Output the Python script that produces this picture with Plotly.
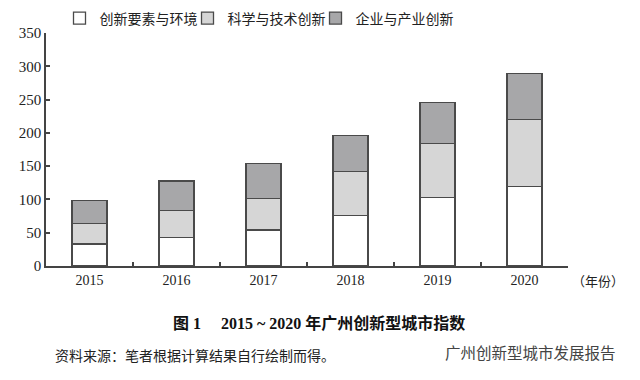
import plotly.graph_objects as go

years = ["2015", "2016", "2017", "2018", "2019", "2020"]
innovation_env = [33, 43, 54, 75.5, 102.5, 119.5]
sci_tech = [31, 40.5, 47.5, 66, 81.5, 101]
industry = [34, 44, 52.5, 54.5, 62, 68.5]
series_names = ["创新要素与环境", "科学与技术创新", "企业与产业创新"]
y_ticks = [0, 50, 100, 150, 200, 250, 300, 350]

FONT = "Liberation Serif, Noto Sans CJK SC, serif"
fills = ["#ffffff", "#d6d6d6", "#a7a7a9"]
edge = "#4a4a4a"
legend_ids = ["legend", "legend2", "legend3"]

fig = go.Figure()
for name, vals, col, lg in zip(series_names, [innovation_env, sci_tech, industry], fills, legend_ids):
    fig.add_trace(go.Bar(
        x=years, y=vals, name=name, legend=lg,
        marker=dict(color=col, line=dict(color=edge, width=1.3)),
    ))


def px(sx):
    return (sx - 46) / 522


def py(sy):
    return (266 - sy) / 233


def legend_box(sx):
    return dict(
        orientation="h", x=px(sx), y=py(18.5), xanchor="left", yanchor="middle",
        font=dict(family="Noto Sans CJK SC", size=14, color="#222"),
        itemwidth=30, bgcolor="rgba(0,0,0,0)",
    )


# page body has an 8px margin; plot area targets screen x 46..568, y 33..266
fig.update_layout(
    barmode="stack",
    bargap=0.6,
    width=640, height=380,
    paper_bgcolor="white", plot_bgcolor="white",
    margin=dict(l=38, r=80, t=25, b=122, autoexpand=False),
    font=dict(family=FONT, size=13, color="#222"),
    showlegend=True,
    legend=legend_box(59.5),
    legend2=legend_box(187.5),
    legend3=legend_box(315.5),
    xaxis=dict(
        type="category", range=[-0.5, 5.5],
        showline=True, linecolor="#444", linewidth=1.5,
        ticks="inside", ticklen=4, tickcolor="#444", tickwidth=1.5,
        tickson="boundaries", showgrid=False,
        tickfont=dict(family=FONT, size=14, color="#222"),
    ),
    yaxis=dict(
        range=[0, 350], tickvals=y_ticks,
        showline=True, linecolor="#444", linewidth=1.5,
        ticks="inside", ticklen=4, tickcolor="#444", tickwidth=1.5,
        showgrid=False, zeroline=False,
        tickfont=dict(family=FONT, size=15, color="#222"),
    ),
)

fig.add_annotation(text="（年份）", xref="paper", yref="paper", x=px(570), y=py(280),
                   xanchor="left", yanchor="middle", showarrow=False,
                   font=dict(family="Noto Sans CJK SC", size=13, color="#222"))
fig.add_annotation(text="<b>图 1　 2015 ~ 2020 年广州创新型城市指数</b>", xref="paper", yref="paper",
                   x=px(318.5), y=py(323), xanchor="center", yanchor="middle",
                   showarrow=False, font=dict(family=FONT, size=16, color="#111"))
fig.add_annotation(text="资料来源：笔者根据计算结果自行绘制而得。", xref="paper", yref="paper",
                   x=px(53), y=py(355), xanchor="left", yanchor="middle",
                   showarrow=False, font=dict(family="Noto Sans CJK SC", size=14, color="#222"))
fig.add_annotation(text="广州创新型城市发展报告", xref="paper", yref="paper",
                   x=px(618), y=py(352), xanchor="right", yanchor="middle",
                   showarrow=False, font=dict(family="Noto Sans CJK SC", size=15.5, color="#444"))

fig.write_html("out.html")
